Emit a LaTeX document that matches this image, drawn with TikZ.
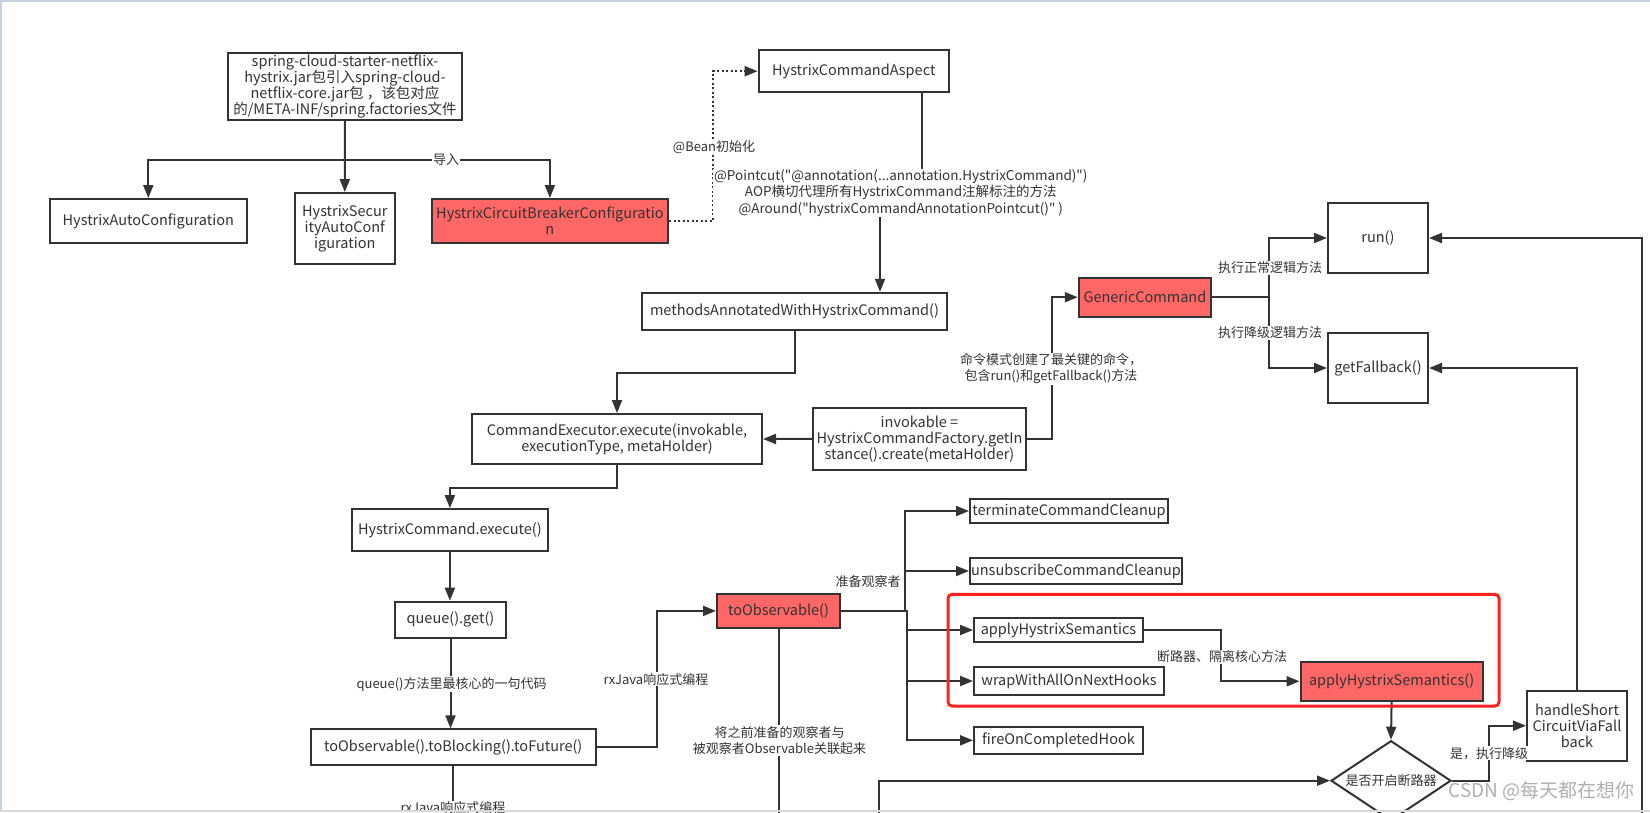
\documentclass[tikz,border=0pt]{standalone}
\usepackage{fontspec}
\setmainfont{Noto Sans CJK SC}[Ligatures=TeXOff]
\usetikzlibrary{arrows.meta,calc,shapes.geometric}
\definecolor{dk}{HTML}{333333}
\definecolor{redfill}{HTML}{FF6666}
\definecolor{redframe}{HTML}{FF2020}
\definecolor{frameblue}{HTML}{C8D2E2}
\definecolor{framegray}{HTML}{D9D9D9}
\definecolor{wm}{HTML}{B0B0B0}
\begin{document}
\begin{tikzpicture}[x=1pt,y=-1pt,
 box/.style={draw=dk, line width=2pt, fill=white, inner sep=0pt, align=center, text=dk, font=\fontsize{14.5}{16}\selectfont},
 redbox/.style={box, fill=redfill},
 arr/.style={draw=dk, line width=2pt, -{Triangle[length=13pt,width=10pt]}},
 ln/.style={draw=dk, line width=2pt},
 lbl/.style={fill=white, inner sep=1pt, text=dk, align=center, font=\fontsize{13}{16}\selectfont},
]
\useasboundingbox (0,0) rectangle (1650,812);
\clip (0,0) rectangle (1650,812);
\fill[white] (0,0) rectangle (1650,812);

% nodes
\node[box, minimum width=234pt, minimum height=67pt] (spring) at (345,86.5) {spring-cloud-starter-netflix-\\hystrix.jar包引入spring-cloud-\\netflix-core.jar包 ，该包对应\\的/META-INF/spring.factories文件};
\node[box, minimum width=197.5pt, minimum height=44pt] (hac) at (148.3,221) {HystrixAutoConfiguration};
\node[box, minimum width=100.4pt, minimum height=71pt] (hsac) at (344.8,228.5) {HystrixSecur\\ityAutoConf\\iguration};
\node[redbox, minimum width=236.3pt, minimum height=44pt] (hcbc) at (549.9,221) {HystrixCircuitBreakerConfiguratio\\n};
\node[box, minimum width=190.3pt, minimum height=42.3pt] (aspect) at (853.8,71.2) {HystrixCommandAspect};
\node[box, minimum width=305pt, minimum height=37.3pt] (methods) at (794.5,311.4) {methodsAnnotatedWithHystrixCommand()};
\node[box, minimum width=290pt, minimum height=50pt] (cmdexec) at (617,439) {CommandExecutor.execute(invokable,\\executionType, metaHolder)};
\node[box, minimum width=213pt, minimum height=62.3pt] (invokable) at (919.5,438.9) {invokable =\\HystrixCommandFactory.getIn\\stance().create(metaHolder)};
\node[redbox, minimum width=132.3pt, minimum height=39pt] (generic) at (1144.9,297.2) {GenericCommand};
\node[box, minimum width=100pt, minimum height=70.6pt] (run) at (1378,238) {run()};
\node[box, minimum width=100pt, minimum height=70.6pt] (getfb) at (1378,368) {getFallback()};
\node[box, minimum width=196pt, minimum height=41.7pt] (hce) at (449.9,530) {HystrixCommand.execute()};
\node[box, minimum width=111pt, minimum height=36pt] (queue) at (450.5,619.7) {queue().get()};
\node[box, minimum width=285pt, minimum height=35.7pt] (toblock) at (453.2,747.2) {toObservable().toBlocking().toFuture()};
\node[redbox, minimum width=123pt, minimum height=33.7pt] (toobs) at (778.5,610.9) {toObservable()};
\node[box, minimum width=198pt, minimum height=24.3pt] (term) at (1069,511) {terminateCommandCleanup};
\node[box, minimum width=212pt, minimum height=26.6pt] (unsub) at (1076,571) {unsubscribeCommandCleanup};
\node[box, minimum width=169pt, minimum height=24.6pt] (apply) at (1058.5,630) {applyHystrixSemantics};
\node[box, minimum width=190pt, minimum height=28.3pt] (wrap) at (1069,681) {wrapWithAllOnNextHooks};
\node[box, minimum width=169pt, minimum height=27.3pt] (fire) at (1058.5,740.3) {fireOnCompletedHook};
\node[redbox, minimum width=182pt, minimum height=39.3pt] (applyS) at (1391.6,681.3) {applyHystrixSemantics()};
\node[diamond, draw=dk, line width=2pt, fill=white, inner sep=0pt, aspect=1.5, minimum width=120pt, minimum height=80pt, text=dk, font=\fontsize{13}{16}\selectfont] (dia) at (1391,780.7) {是否开启断路器};
\node[box, minimum width=100pt, minimum height=70pt] (hs) at (1577,725.7) {handleShort\\CircuitViaFall\\back};

% helper coordinates
\coordinate (j1) at (345,160);
\coordinate (d1) at (713,0);
\coordinate (a1) at (922,0);
\coordinate (a2) at (880,0);
\coordinate (g1) at (1052,0);
\coordinate (r1) at (1269,0);
\coordinate (t1) at (657,0);
\coordinate (b1) at (905,0);
\coordinate (b2) at (907,0);
\coordinate (s1) at (1221,0);
\coordinate (h1) at (1489,0);
\coordinate (lb) at (878.6,830);
\coordinate (rb) at (1642,830);

% connectors
\draw[arr] (spring.south) -- (hsac.north);
\draw[arr] (j1) -| (hac.north);
\draw[arr] (j1) -| (hcbc.north);
\draw[draw=dk, line width=2pt, dash pattern=on 2pt off 2.5pt, -{Triangle[length=13pt,width=10pt]}] (hcbc.east) -- (hcbc.east -| d1) |- (aspect.west);
\draw[arr] (aspect.south -| a1) -- ++(0,108) -| (methods.north -| a2);
\draw[arr] (methods.south) -- ++(0,41.7) -| (cmdexec.north);
\draw[arr] (invokable.west) -- (cmdexec.east);
\draw[arr] (invokable.east) -| (g1 |- generic.west) -- (generic.west);
\draw[arr] (generic.east) -| (r1 |- run.west) -- (run.west);
\draw[arr] (generic.east) -| (r1 |- getfb.west) -- (getfb.west);
\draw[arr] (cmdexec.south) -- ++(0,22.7) -| (hce.north);
\draw[arr] (hce.south) -- (hce.south |- queue.north);
\draw[arr] (queue.south) -- (queue.south |- toblock.north);
\draw[arr] (toblock.east) -| (t1 |- toobs.west) -- (toobs.west);
\draw[ln] (toblock.south) -- ++(0,80);
\draw[arr] (toobs.east) -- (toobs.east -| b1) |- (term.west);
\draw[arr] (toobs.east) -- (toobs.east -| b1) |- (unsub.west);
\draw[arr] (toobs.east) -- (toobs.east -| b2) |- (apply.west);
\draw[arr] (toobs.east) -- (toobs.east -| b2) |- (wrap.west);
\draw[arr] (toobs.east) -- (toobs.east -| b2) |- (fire.west);
\draw[ln] (toobs.south) -- ++(0,220);
\draw[arr] (apply.east) -| (s1 |- applyS.west) -- (applyS.west);
\draw[arr] (applyS.south) -- (dia.north);
\draw[arr] (lb) |- (dia.west);
\draw[arr] (dia.east) -| (h1 |- hs.west) -- (hs.west);
\draw[arr] (hs.north) |- (getfb.east);
\draw[arr] (rb) |- (run.east);

% red highlight frame
\draw[redframe, line width=3pt, rounded corners=4pt] (948,594.3) rectangle (1499,706);

% labels
\node[lbl] (l1) at (446,160) {导入};
\node[lbl] (l2) at (714,146.7) {@Bean初始化};
\node[lbl, font=\fontsize{13.5}{16.3}\selectfont] (l3) at (900.8,193) {@Pointcut("@annotation(...annotation.HystrixCommand)")\\AOP横切代理所有HystrixCommand注解标注的方法\\@Around("hystrixCommandAnnotationPointcut()" )};
\node[lbl] (l4) at (1051,369) {命令模式创建了最关键的命令，\\包含run()和getFallback()方法};
\node[lbl] (l5) at (1270,268) {执行正常逻辑方法};
\node[lbl] (l6) at (1270,333) {执行降级逻辑方法};
\node[lbl] (l7) at (451.6,684) {queue()方法里最核心的一句代码};
\node[lbl] (l8) at (656,679.3) {rxJava响应式编程};
\node[lbl] (l9) at (453,808) {rxJava响应式编程};
\node[lbl] (l10) at (868,582) {准备观察者};
\node[lbl] (l11) at (779.5,740.5) {将之前准备的观察者与\\被观察者Observable关联起来};
\node[lbl] (l12) at (1222,656.7) {断路器、隔离核心方法};
\node[lbl] (l13) at (1489,753.3) {是，执行降级};
\node[text=wm, inner sep=0pt, anchor=east, font=\fontsize{19}{19}\selectfont] (wmk) at (1635,791) {CSDN @每天都在想你};

% frame edges
\fill[frameblue] (0,0) rectangle (1650,2);
\fill[frameblue] (0,0) rectangle (2,812);
\fill[framegray] (0,809.5) rectangle (1650,812);
\end{tikzpicture}
\end{document}
